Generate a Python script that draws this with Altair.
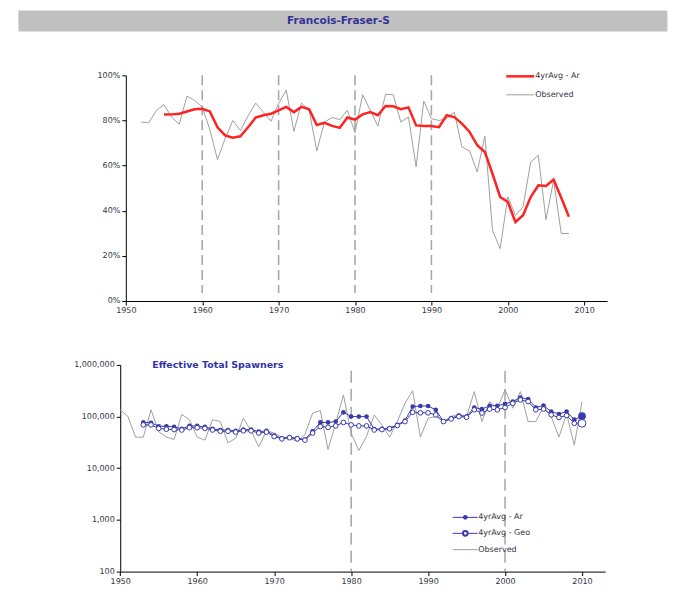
import altair as alt
import pandas as pd

title_text = ["Francois-Fraser-S"]
bottom_title = ["Effective Total Spawners"]

# ---- top panel data (percent) ----
top_obs_years = list(range(1952, 2009))
top_obs = [79.3, 79.0, 84.5, 87.0, 81.5, 78.3, 90.8, 88.9,
           86.0, 76.0, 62.6, 72.0, 80.0, 75.6, 82.0, 87.7, 83.7, 79.6,
           87.5, 93.4, 75.2, 87.7, 84.5, 66.5, 79.3, 81.3, 80.4, 84.5,
           74.6, 91.4, 84.5, 77.5, 91.6, 91.4, 79.3, 81.5, 59.4, 88.6,
           80.8, 80.0, 80.8, 83.7, 68.2, 66.5, 57.2, 73.0, 31.3, 23.2,
           46.1, 38.0, 41.7, 61.6, 64.6, 36.0, 53.5, 29.9, 29.9]
top_avg_years = list(range(1955, 2009))
top_avg = [82.6, 82.7, 83.0, 84.0, 85.0,
           85.2, 84.0, 77.0, 73.4, 72.4, 73.0, 77.0, 81.3, 82.3, 83.0,
           84.5, 86.0, 83.7, 86.0, 85.0, 78.0, 79.0, 77.6, 76.7, 81.3,
           80.4, 82.7, 83.7, 82.3, 86.4, 86.3, 85.0, 85.8, 77.8, 77.5,
           77.5, 77.0, 82.3, 81.5, 78.6, 74.9, 69.0, 66.0, 56.4, 46.1,
           43.9, 35.0, 38.0, 46.1, 51.3, 51.0, 53.8, 45.8, 37.3]
top_marks = [1960, 1970, 1980, 1990]
top_legend = ["4yrAvg - Ar", "Observed"]
top_y_ticks = [0, 20, 40, 60, 80, 100]
x_ticks = [1950, 1960, 1970, 1980, 1990, 2000, 2010]

# ---- bottom panel data (spawners) ----
bot_obs_years = list(range(1950, 2011))
bot_obs = [135000, 100000, 40000, 40000, 135000, 51000, 40000, 36000, 110000, 87000,
           40000, 35000, 87000, 80000, 31000, 38000, 93000, 53000, 26000, 53000,
           48000, 40000, 38000, 33000, 45000, 117000, 130000, 23000, 74000, 263000,
           48000, 22000, 41000, 107000, 69000, 40000, 80000, 181000, 316000, 40000,
           93000, 100000, 80000, 100000, 113000, 100000, 304000, 80000, 195000, 145000,
           330000, 145000, 304000, 80000, 80000, 156000, 100000, 40000, 113000, 28000,
           195000]
bot_avg_years = list(range(1953, 2011))
bot_ar = [77000, 76000, 65000, 65000, 63000, 58000, 66000,
          66000, 63000, 58000, 55000, 55000, 53000, 56000, 56000, 51000, 53000,
          43000, 38000, 40000, 38000, 36000, 52000, 77000, 77000, 80000, 121000,
          100000, 100000, 100000, 57000, 58000, 60000, 69000, 84000, 156000, 160000,
          160000, 135000, 80000, 93000, 105000, 100000, 150000, 139000, 162000, 162000,
          176000, 195000, 233000, 217000, 150000, 163000, 125000, 112000, 125000, 87000,
          102000]
bot_geo = [69000, 69000, 59000, 57000, 56000, 55000, 61000,
           61000, 59000, 55000, 52000, 52000, 50000, 53000, 53000, 48000, 50000,
           41000, 37000, 39000, 37000, 35000, 48000, 64000, 62000, 66000, 77000,
           69000, 66000, 66000, 55000, 56000, 58000, 67000, 80000, 121000, 118000,
           118000, 108000, 80000, 90000, 100000, 97000, 135000, 117000, 139000, 135000,
           150000, 181000, 210000, 195000, 135000, 140000, 108000, 96000, 105000, 74000,
           74000]
bot_marks = [1980, 2000]
bot_legend = ["4yrAvg - Ar", "4yrAvg - Geo", "Observed"]
bot_y_ticks = [100, 1000, 10000, 100000, 1000000]

FONT = "DejaVu Sans"
LABEL = "#333344"
BLUE = "#3a3aaa"
RED = "#ff2222"
GRAY = "#a0a0a0"
MSIZE = 22

TW, TH = 482, 226
BW, BH = 480, 207

df_top_obs = pd.DataFrame({"year": top_obs_years, "v": top_obs})
df_top_avg = pd.DataFrame({"year": top_avg_years, "v": top_avg})
df_top_marks = pd.DataFrame({"year": top_marks})
df_title = pd.DataFrame({"t": title_text})

xs_top = alt.Scale(domain=[1950, 2013], range=[0, TW], nice=False, zero=False)
xa_top = alt.Axis(values=x_ticks, format="d", labelFlush=False, title=None)
ys_top = alt.Scale(domain=[0, 100], nice=False)
ya_top = alt.Axis(values=top_y_ticks, labelExpr="datum.value + '%'", title=None)

xt = alt.X("year:Q", scale=xs_top, axis=xa_top)
yt = alt.Y("v:Q", scale=ys_top, axis=ya_top)

top_rules = alt.Chart(df_top_marks).mark_rule(
    color="#a8a8a8", strokeDash=[10, 5], strokeWidth=1.6
).encode(x=xt, y=alt.value(0), y2=alt.value(TH - 8))

top_obs_line = alt.Chart(df_top_obs).mark_line(color=GRAY, strokeWidth=1).encode(x=xt, y=yt)
top_avg_line = alt.Chart(df_top_avg).mark_line(color=RED, strokeWidth=2.5).encode(x=xt, y=yt)

band = alt.Chart(df_title).mark_rect(color="#c0c0c0").encode(
    x=alt.value(-107.6), x2=alt.value(542.4), y=alt.value(-65), y2=alt.value(-44))
band_text = alt.Chart(df_title).mark_text(
    font=FONT, fontSize=10.5, fontWeight="bold", color="#33339a", align="center", baseline="middle"
).encode(x=alt.value(213), y=alt.value(-54.5), text="t:N")

df_tl0 = pd.DataFrame({"t": [top_legend[0]]})
df_tl1 = pd.DataFrame({"t": [top_legend[1]]})
tl_r0 = alt.Chart(df_tl0).mark_rule(color=RED, strokeWidth=2.5).encode(
    x=alt.value(381), x2=alt.value(409), y=alt.value(1))
tl_t0 = alt.Chart(df_tl0).mark_text(font=FONT, fontSize=8, color=LABEL, align="left", baseline="middle").encode(
    x=alt.value(410), y=alt.value(1), text="t:N")
tl_r1 = alt.Chart(df_tl1).mark_rule(color=GRAY, strokeWidth=1).encode(
    x=alt.value(381), x2=alt.value(409), y=alt.value(19.5))
tl_t1 = alt.Chart(df_tl1).mark_text(font=FONT, fontSize=8, color=LABEL, align="left", baseline="middle").encode(
    x=alt.value(410), y=alt.value(19.5), text="t:N")

top = alt.layer(top_rules, top_obs_line, top_avg_line, band, band_text,
                tl_r0, tl_t0, tl_r1, tl_t1).properties(width=TW, height=TH)

# ---- bottom ----
df_bo = pd.DataFrame({"year": bot_obs_years, "v": bot_obs})
df_ar = pd.DataFrame({"year": bot_avg_years, "v": bot_ar})
df_geo = pd.DataFrame({"year": bot_avg_years, "v": bot_geo})
df_bm = pd.DataFrame({"year": bot_marks})
df_bt = pd.DataFrame({"t": bottom_title})

xs_bot = alt.Scale(domain=[1950, 2013], range=[-5.6, BW], nice=False, zero=False)
xa_bot = alt.Axis(values=x_ticks, format="d", labelFlush=False, title=None)
ys_bot = alt.Scale(type="log", domain=[100, 1000000], nice=False)
ya_bot = alt.Axis(values=bot_y_ticks, format=",", title=None, offset=5.6)
xb = alt.X("year:Q", scale=xs_bot, axis=xa_bot)
yb = alt.Y("v:Q", scale=ys_bot, axis=ya_bot)

bot_rules = alt.Chart(df_bm).mark_rule(color="#777777", strokeDash=[12, 6], strokeWidth=1).encode(
    x=xb, y=alt.value(6), y2=alt.value(BH))
bot_obs_line = alt.Chart(df_bo).mark_line(color=GRAY, strokeWidth=1).encode(x=xb, y=yb)
ar_line = alt.Chart(df_ar).mark_line(color=BLUE, strokeWidth=1).encode(x=xb, y=yb)
ar_pts = alt.Chart(df_ar).mark_point(filled=True, color=BLUE, size=MSIZE, opacity=1).encode(x=xb, y=yb)
geo_line = alt.Chart(df_geo).mark_line(color=BLUE, strokeWidth=1).encode(x=xb, y=yb)
geo_pts = alt.Chart(df_geo).mark_point(filled=False, fill="white", color=BLUE, size=MSIZE,
                                       strokeWidth=1, opacity=1).encode(x=xb, y=yb)
ar_last = alt.Chart(df_ar.tail(1)).mark_point(filled=True, color=BLUE, size=60, opacity=1).encode(x=xb, y=yb)
geo_last = alt.Chart(df_geo.tail(1)).mark_point(filled=False, fill="white", color=BLUE, size=60,
                                                strokeWidth=1, opacity=1).encode(x=xb, y=yb)

bt_text = alt.Chart(df_bt).mark_text(
    font=FONT, fontSize=9.5, fontWeight="bold", color="#3333aa", align="left", baseline="middle"
).encode(x=alt.value(26.4), y=alt.value(0), text="t:N")

leg_layers = []
leg_y = [152.7, 168.7, 185]
for i, lab in enumerate(bot_legend):
    d = pd.DataFrame({"t": [lab]})
    col = BLUE if i < 2 else GRAY
    leg_layers.append(alt.Chart(d).mark_rule(color=col, strokeWidth=1).encode(
        x=alt.value(327.4), x2=alt.value(352.4), y=alt.value(leg_y[i])))
    if i == 0:
        leg_layers.append(alt.Chart(d).mark_point(filled=True, color=BLUE, size=MSIZE, opacity=1).encode(
            x=alt.value(340), y=alt.value(leg_y[i])))
    elif i == 1:
        leg_layers.append(alt.Chart(d).mark_point(filled=False, fill="white", color=BLUE, size=MSIZE,
                                                  opacity=1).encode(x=alt.value(340), y=alt.value(leg_y[i])))
    leg_layers.append(alt.Chart(d).mark_text(font=FONT, fontSize=8, color=LABEL, align="left",
                                             baseline="middle").encode(
        x=alt.value(353), y=alt.value(leg_y[i]), text="t:N"))

bottom = alt.layer(bot_rules, bot_obs_line, ar_line, geo_line, ar_pts, geo_pts, ar_last, geo_last,
                   bt_text, *leg_layers).properties(width=BW, height=BH)

chart = alt.vconcat(top, bottom, spacing=64, bounds="flush").properties(
    padding={"left": 10, "top": 2, "right": 0, "bottom": 0}
).configure_view(stroke=None).configure_axis(
    grid=False, domainColor="#000000", tickColor="#000000", labelFont=FONT, labelFontSize=8,
    labelColor=LABEL, tickSize=4, labelPadding=2, domainWidth=1, tickWidth=1
)

chart.save("out.html", embed_options={"renderer": "svg", "actions": False})
